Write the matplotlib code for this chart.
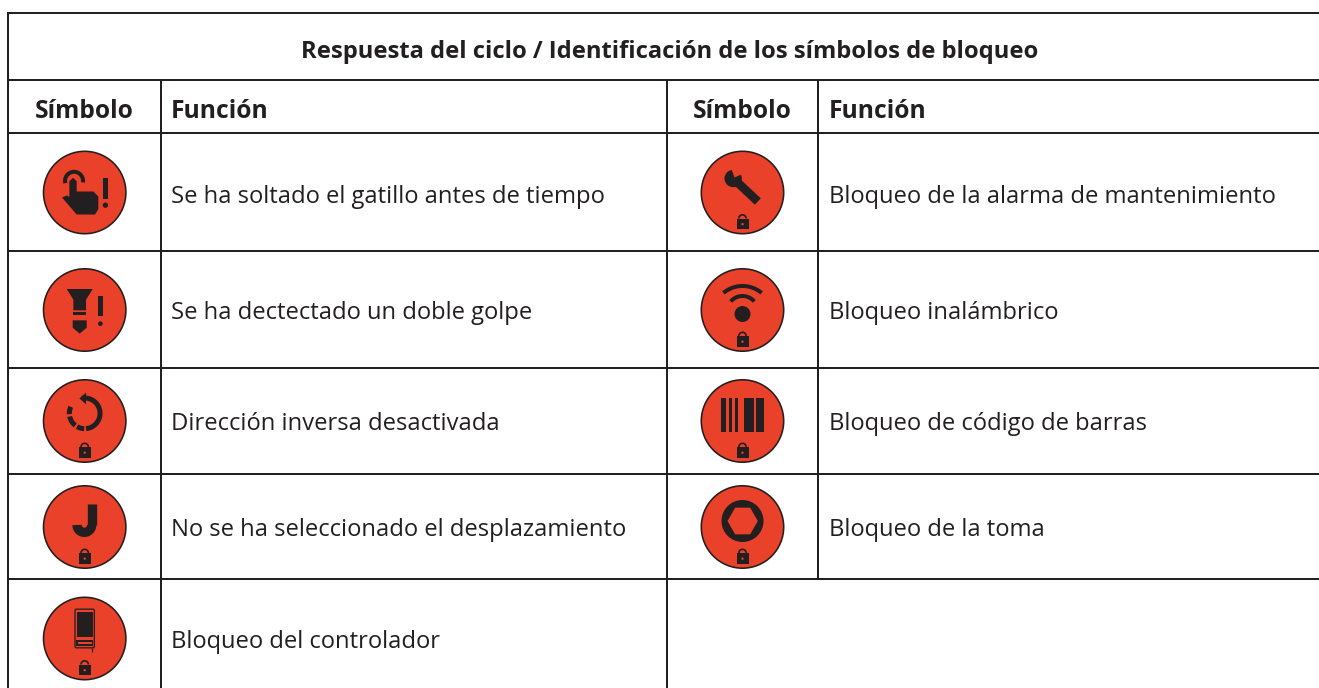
import numpy as np
import matplotlib
matplotlib.use("Agg")
import matplotlib.pyplot as plt
from matplotlib.patches import Circle, Polygon, Rectangle, FancyBboxPatch

W, H = 1319, 688
RED = "#E9412A"
INK = "#231F20"
plt.rcParams["font.family"] = ["Open Sans", "DejaVu Sans"]

title = "Respuesta del ciclo / Identificación de los símbolos de bloqueo"
head_sym = "Símbolo"
head_fun = "Función"
left_labels = ["Se ha soltado el gatillo antes de tiempo",
               "Se ha dectectado un doble golpe",
               "Dirección inversa desactivada",
               "No se ha seleccionado el desplazamiento",
               "Bloqueo del controlador"]
right_labels = ["Bloqueo de la alarma de mantenimiento",
                "Bloqueo inalámbrico",
                "Bloqueo de código de barras",
                "Bloqueo de la toma"]
left_icons = ["hand", "screw", "reverse", "jay", "controller"]
right_icons = ["wrench", "wifi", "barcode", "socket"]
row_rules = [80, 133, 251, 368, 474, 579]
icon_y = [192.5, 310, 421, 527, 638.5]
text_y = [203, 319, 430, 536, 648]

fig = plt.figure(figsize=(W / 100, H / 100), dpi=100)
ax = fig.add_axes([0, 0, 1, 1])
ax.set_xlim(0, W)
ax.set_ylim(H, 0)
ax.axis("off")


def px(v):
    return v * 0.72


class Icon:
    """Draws in 3x-zoom units relative to the icon centre."""
    def __init__(self, cx, cy):
        self.cx, self.cy = cx, cy

    def p(self, x, y):
        return self.cx + x / 3, self.cy + y / 3

    def poly(self, pts, color=INK, z=4):
        ax.add_patch(Polygon([self.p(*q) for q in pts], closed=True, fc=color, ec="none", zorder=z))

    def rect(self, x0, y0, x1, y1, color=INK, z=4):
        a, b = self.p(x0, y0)
        ax.add_patch(Rectangle((a, b), (x1 - x0) / 3, (y1 - y0) / 3, fc=color, ec="none", zorder=z))

    def disc(self, x, y, r, color=INK, z=4):
        ax.add_patch(Circle(self.p(x, y), r / 3, fc=color, ec="none", zorder=z))

    def arc(self, x, y, r, a0, a1, lw, color=INK, z=4, cap="butt"):
        t = np.radians(np.linspace(a0, a1, 60))
        q = [self.p(x + r * np.cos(v), y - r * np.sin(v)) for v in t]
        ax.plot(*zip(*q), color=color, lw=px(lw / 3), solid_capstyle=cap, zorder=z)

    def line(self, pts, lw, color=INK, z=4, cap="butt"):
        q = [self.p(*v) for v in pts]
        ax.plot(*zip(*q), color=color, lw=px(lw / 3), solid_capstyle=cap, zorder=z)

    def lock(self):
        self.rect(-17, 79, 18, 110)
        self.arc(0, 78, 11, 0, 180, 5)
        self.line([(-11, 78), (-11, 80)], 5)
        self.line([(11, 78), (11, 80)], 5)
        self.disc(0, 95, 3.5, RED, 5)


def draw_icon(kind, cx, cy):
    ax.add_patch(Circle((cx, cy), 41.2, fc=RED, ec=INK, lw=px(1.6), zorder=3))
    g = Icon(cx, cy)
    if kind == "hand":
        g.poly([(-68, 15), (-54, 9), (-46, 13), (-46, -34), (-35, -44), (-24, -34), (-24, -3),
                (26, -3), (41, 12), (41, 50), (31, 66), (-24, 66)])
        g.arc(-32, -35, 27, -10, 195, 12)
        g.rect(54, -44, 70, 18)
        g.disc(62, 38, 8)
    elif kind == "screw":
        g.poly([(-54, -63), (24, -63), (4, -31), (4, 1), (-34, 1), (-34, -31)])
        g.rect(-34, 6, 4, 16)
        g.poly([(-36, 31), (6, 31), (6, 53), (-15, 71), (-36, 53)])
        g.rect(39, -42, 55, 19)
        g.disc(47, 41, 7)
    elif kind == "reverse":
        g.arc(0, -23, 46, -85, 100, 15)
        g.arc(0, -23, 46, 155, 183, 15)
        g.arc(0, -23, 46, 192, 232, 15)
        g.arc(0, -23, 46, 240, 268, 15)
        g.poly([(-16, -68), (4, -85), (4, -50)])
        g.lock()
    elif kind == "jay":
        g.line([(21, -70), (21, -6)], 28)
        g.arc(-1, -6, 22, 0, -180, 28)
        g.lock()
    elif kind == "controller":
        ax.add_patch(FancyBboxPatch(g.p(-29, -88), 58 / 3, 116 / 3, boxstyle="round,pad=0,rounding_size=1.5",
                                    fc="none", ec=INK, lw=px(1.3), zorder=4))
        g.rect(-23, -81, 24, -6)
        g.rect(-25, 4, 26, 22, INK)
        g.rect(-20, 9, 21, 17, RED, 5)
        g.line([(21, 28), (21, 41)], 4)
        g.lock()
    elif kind == "wrench":
        g.line([(-18, -33), (46, 27)], 26)
        g.disc(-28, -42, 26)
        g.poly([(-24, -45), (-32, -67), (-22, -77), (8, -72), (3, -57)], RED, 5)
        g.lock()
    elif kind == "wifi":
        g.arc(0, 17, 89, 50, 130, 12)
        g.arc(0, 4, 46, 40, 140, 12)
        g.disc(0, 12, 24)
        g.lock()
    elif kind == "barcode":
        for a, b in [(-64, -49), (-40, -31), (-23, -13), (5, 33), (41, 65)]:
            g.rect(a, -69, b, 33)
        g.lock()
    elif kind == "socket":
        g.disc(0, -18, 63)
        g.poly([(-45, -18), (-22, -58), (23, -58), (46, -18), (23, 22), (-22, 22)], RED, 5)
        g.lock()


def hline(y, x0=8, x1=W):
    ax.plot([x0, x1], [y, y], color=INK, lw=px(2), solid_capstyle="butt", zorder=2)


def vline(x, y0, y1=H):
    ax.plot([x, x], [y0, y1], color=INK, lw=px(2), solid_capstyle="butt", zorder=2)


hline(13)
for y in row_rules:
    hline(y)
vline(8, 12)
vline(161, 80)
vline(667, 80)
vline(818, 80, row_rules[-1])

FS = 17.15
FH = 17.7
ax.text(669.5, 58, title, ha="center", va="baseline", fontsize=FS, fontweight="bold", color=INK)
for x_sym, x_fun in [(84.5, 171), (742.5, 829)]:
    ax.text(x_sym, 118, head_sym, ha="center", va="baseline", fontsize=FH, fontweight="bold", color=INK)
    ax.text(x_fun, 118, head_fun, ha="left", va="baseline", fontsize=FH, fontweight="bold", color=INK)

for lab, kind, iy, ty in zip(left_labels, left_icons, icon_y, text_y):
    ax.text(171, ty, lab, ha="left", va="baseline", fontsize=FS, color=INK)
    draw_icon(kind, 84.7, iy)
for lab, kind, iy, ty in zip(right_labels, right_icons, icon_y, text_y):
    ax.text(829, ty, lab, ha="left", va="baseline", fontsize=FS, color=INK)
    draw_icon(kind, 742.5, iy)

fig.savefig("out.png", dpi=100, facecolor="white")
